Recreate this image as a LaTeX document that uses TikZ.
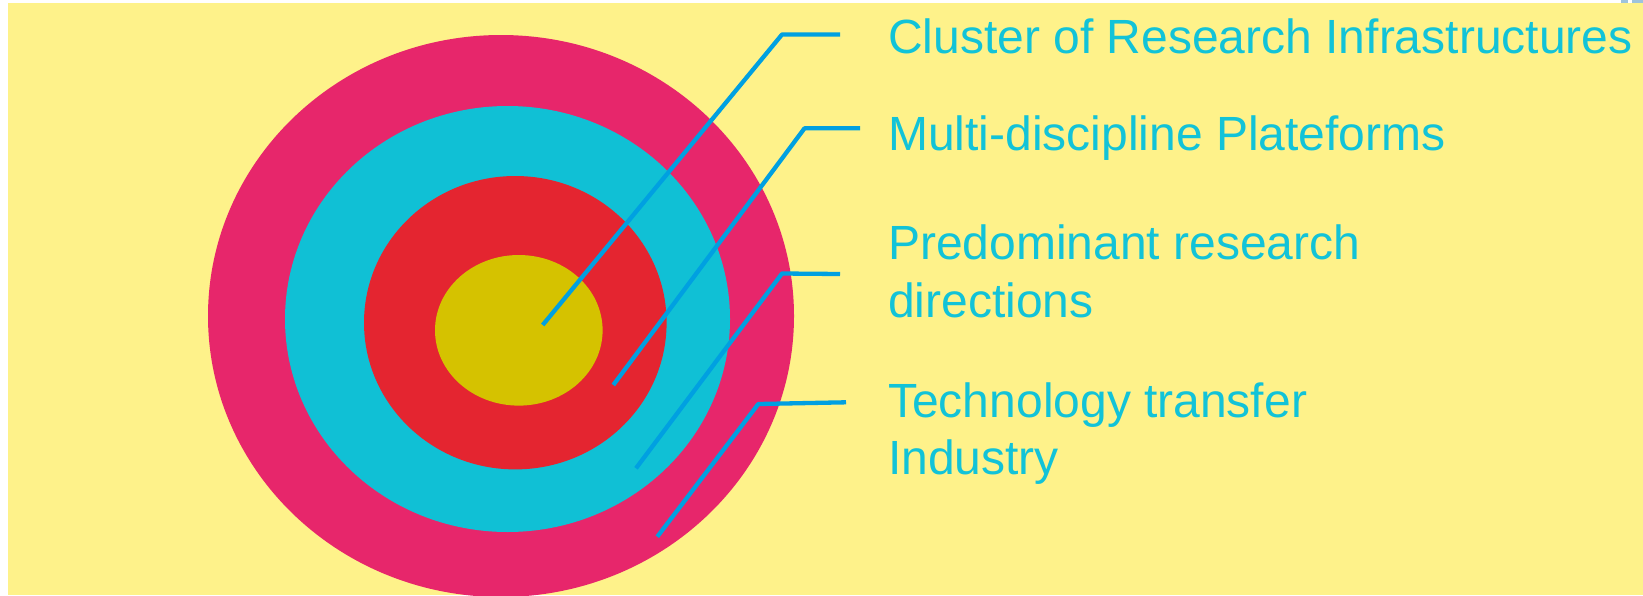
\documentclass[tikz,border=0pt]{standalone}
\usepackage{fontspec}
\setmainfont{Liberation Sans}
\definecolor{bgyellow}{RGB}{254,242,138}
\definecolor{ringpink}{RGB}{231,38,107}
\definecolor{ringcyan}{RGB}{16,192,213}
\definecolor{ringred}{RGB}{228,37,48}
\definecolor{ringolive}{RGB}{213,194,0}
\definecolor{leaderblue}{RGB}{0,160,225}
\definecolor{labelcyan}{RGB}{18,195,216}
\definecolor{cornerblue}{RGB}{158,195,220}
\begin{document}
\begin{tikzpicture}[x=1pt,y=-1pt,
  leader/.style={draw=leaderblue,line width=4.3pt,line join=bevel},
  label/.style={anchor=base west,inner sep=0pt,text=labelcyan,
    font=\fontsize{48}{57.5}\selectfont}]
  \useasboundingbox (0,0) rectangle (1643,595);
  % page and yellow panel
  \fill[white] (0,0) rectangle (1643,595);
  \fill[bgyellow] (8,3) rectangle (1643,595);
  \fill[cornerblue] (1621,0) rectangle (1628,3.3);
  \fill[cornerblue] (1632,0) rectangle (1643,3.3);
  % target rings, outer to inner
  \begin{scope}
    \clip (8,3) rectangle (1643,595);
    \fill[ringpink]  (501,316) ellipse [x radius=293, y radius=281];
    \fill[ringcyan]  (507.5,319) ellipse [x radius=222.5, y radius=213];
    \fill[ringred]   (515.3,322.7) ellipse [x radius=151.3, y radius=146.7];
    \fill[ringolive] (518.8,330.3) ellipse [x radius=83.8, y radius=75.3];
  \end{scope}
  % labels
  \node[label] (lab1) at (888,53) {Cluster of Research Infrastructures};
  \node[label] (lab2) at (888,150) {Multi-discipline Plateforms};
  \node[label] (lab3a) at (888,259) {Predominant research};
  \node[label] (lab3b) at (888,317) {directions};
  \node[label] (lab4a) at (888,417) {Technology transfer};
  \node[label] (lab4b) at (888,474.5) {Industry};
  % leader line points
  \coordinate (s1) at (542.7,325);
  \coordinate (k1) at (782,34.5);
  \coordinate (e1) at (840,34.5);
  \coordinate (s2) at (613.3,385);
  \coordinate (k2) at (804.5,128.3);
  \coordinate (e2) at (860,128.3);
  \coordinate (s3) at (636,468.3);
  \coordinate (k3) at (782,273.5);
  \coordinate (e3) at (840,274);
  \coordinate (s4) at (657.3,536.7);
  \coordinate (k4) at (758.3,404);
  \coordinate (e4) at (846,402.3);
  % leader lines
  \draw[leader] (s1) -- (k1) -- (e1);
  \draw[leader] (s2) -- (k2) -- (e2);
  \draw[leader] (s3) -- (k3) -- (e3);
  \draw[leader] (s4) -- (k4) -- (e4);
\end{tikzpicture}
\end{document}
